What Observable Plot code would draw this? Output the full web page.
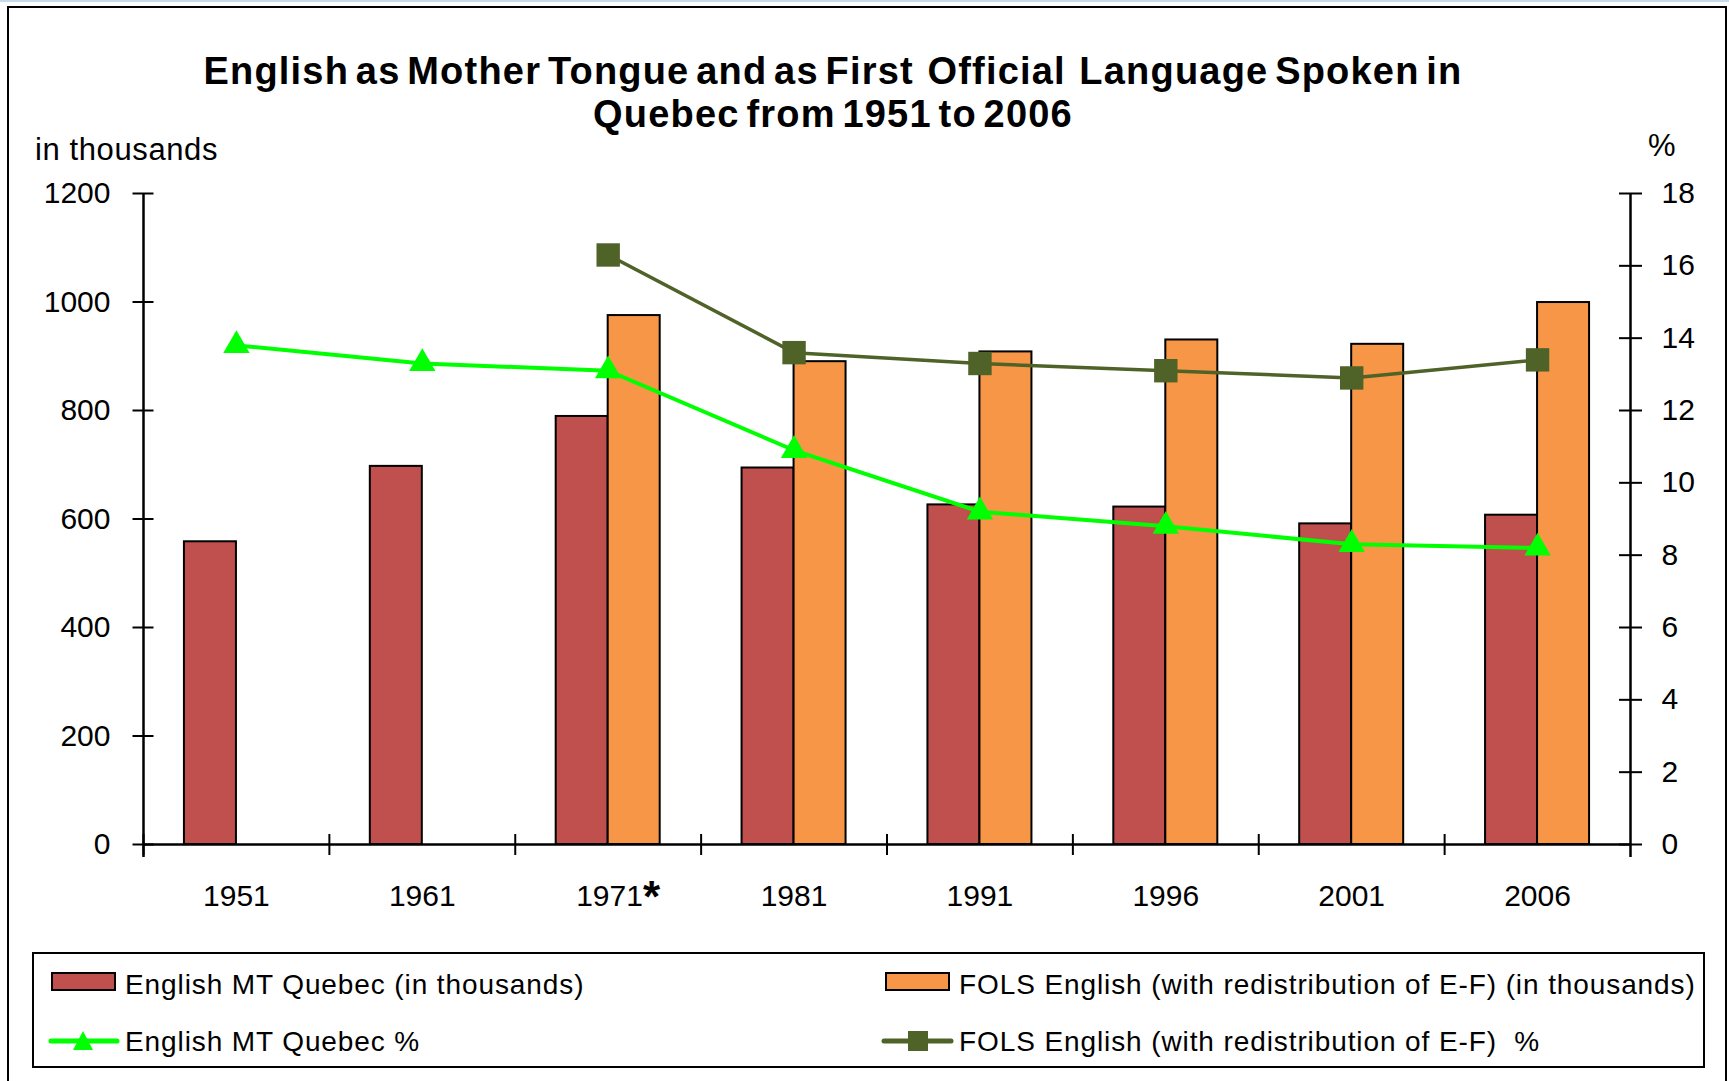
<!DOCTYPE html>
<html>
<head>
<meta charset="utf-8">
<script src="https://cdn.jsdelivr.net/npm/d3@7"></script>
<script src="https://cdn.jsdelivr.net/npm/@observablehq/plot@0.6"></script>
<style>
  html, body { margin: 0; padding: 0; background: #fff; overflow: hidden; }
  #page { position: relative; width: 1729px; height: 1081px; font-family: "Liberation Sans", Arial, sans-serif; color: #000; }
  #topline { position: absolute; left: 0; top: 0; width: 1729px; height: 2px; background: #c6d9f0; }
  #frame { position: absolute; left: 7px; top: 6px; width: 1720px; height: 1100px; box-sizing: border-box; border: 2px solid #000; }
  #title { position: absolute; left: 0; top: 50px; width: 1666px; text-align: center; font-weight: bold; font-size: 38px; line-height: 43px; letter-spacing: 1.2px; word-spacing: -5px; white-space: pre; }
  .axlab { position: absolute; font-size: 31px; line-height: 31px; letter-spacing: 0.6px; white-space: pre; }
  #chart { position: absolute; left: 0; top: 171px; }
  #legend { position: absolute; left: 32px; top: 952px; width: 1673px; height: 116px; box-sizing: border-box; border: 2px solid #000; }
  .lg { position: absolute; font-size: 28px; line-height: 28px; letter-spacing: 0.9px; white-space: pre; }
  .sw { position: absolute; }
</style>
</head>
<body>
<div id="page">
  <div id="topline"></div>
  <div id="frame"></div>
  <div id="title"></div>
  <div class="axlab" id="ylabL" style="left:35px; top:134px;"></div>
  <div class="axlab" id="ylabR" style="left:1648px; top:130px;"></div>
  <div id="chart"></div>
  <div id="legend"></div>
</div>
<script>
// ---- data ----
const titleLines = ["English as Mother Tongue and as First  Official  Language Spoken in", "Quebec from 1951 to 2006"];
const years = ["1951", "1961", "1971", "1981", "1991", "1996", "2001", "2006"];
const xTickLabels = ["1951", "1961", "1971*", "1981", "1991", "1996", "2001", "2006"];
const mtThousands = [558, 697, 789, 694, 626, 622, 591, 607];
const folsThousands = [null, null, 975, 890, 908, 930, 922, 999];
const mtPct = [13.8, 13.3, 13.1, 10.9, 9.2, 8.8, 8.3, 8.2];
const folsPct = [null, null, 16.3, 13.6, 13.3, 13.1, 12.9, 13.4];
const leftTicks = [0, 200, 400, 600, 800, 1000, 1200];
const rightTicks = [0, 2, 4, 6, 8, 10, 12, 14, 16, 18];
const leftAxisLabel = "in thousands";
const rightAxisLabel = "%";
const seriesNames = [
  "English MT Quebec (in thousands)",
  "FOLS English (with redistribution of E-F) (in thousands)",
  "English MT Quebec %",
  "FOLS English (with redistribution of E-F)  %"
];
const colors = { mt: "#C0504D", fols: "#F79646", mtPct: "#00FF00", folsPct: "#4F6228" };

// ---- build ----
document.getElementById("title").textContent = titleLines.join("\n");
document.getElementById("ylabL").textContent = leftAxisLabel;
document.getElementById("ylabR").textContent = rightAxisLabel;

const table = years.map((year, i) => ({
  year, mt: mtThousands[i], fols: folsThousands[i], mtPct: mtPct[i], folsPct: folsPct[i]
}));

const W = 1729, H = 760, ML = 143, MR = 99, MT = 22, MB = 87;
const bw = (W - ML - MR) / years.length;
const barW = 52;
const yMax = leftTicks[leftTicks.length - 1];
const pMax = rightTicks[rightTicks.length - 1];
const k = yMax / pMax;

const chart = Plot.plot({
  width: W, height: H, marginTop: MT, marginBottom: MB, marginLeft: ML, marginRight: MR,
  style: { fontFamily: "'Liberation Sans', Arial, sans-serif", fontSize: "30px", color: "#000", background: "transparent", overflow: "visible" },
  x: { domain: years, padding: 0, round: false, axis: null },
  y: { domain: [0, yMax], axis: null },
  marks: [
    Plot.barY(table, { x: "year", y: "mt", fill: colors.mt, stroke: "#000", strokeWidth: 2, insetLeft: bw / 2 - barW, insetRight: bw / 2 }),
    Plot.barY(table.filter(d => d.fols != null), { x: "year", y: "fols", fill: colors.fols, stroke: "#000", strokeWidth: 2, insetLeft: bw / 2, insetRight: bw / 2 - barW }),
    Plot.ruleY([0], { stroke: "#000", strokeWidth: 2.5 }),
    Plot.ruleX([years[0]], { dx: -bw / 2, insetBottom: -13, stroke: "#000", strokeWidth: 2.5 }),
    Plot.ruleX([years[years.length - 1]], { dx: bw / 2, insetBottom: -13, stroke: "#000", strokeWidth: 2.5 }),
    Plot.axisX(years, { tickSize: 0, tickPadding: 40, tickFormat: d => xTickLabels[years.indexOf(d)], label: null }),
    Plot.axisX(years, { tickSize: 21, dx: -bw / 2, dy: -10, tickFormat: () => "", label: null, strokeWidth: 2 }),
    Plot.axisY(leftTicks, { anchor: "left", tickSize: 21, dx: 10.5, tickPadding: 22.5, tickFormat: d => String(d), label: null, strokeWidth: 2 }),
    Plot.axisY(rightTicks.map(p => p * k), { anchor: "right", tickSize: 23, dx: -12, tickPadding: 20, tickFormat: d => String(Math.round(d / k)), label: null, strokeWidth: 2 }),
    Plot.line(table, { x: "year", y: d => d.mtPct * k, stroke: colors.mtPct, strokeWidth: 4 }),
    Plot.dot(table, { x: "year", y: d => d.mtPct * k, symbol: "triangle", r: 9.8, fill: colors.mtPct }),
    Plot.line(table, { x: "year", y: d => d.folsPct == null ? NaN : d.folsPct * k, stroke: colors.folsPct, strokeWidth: 3.5 }),
    Plot.dot(table, { x: "year", y: d => d.folsPct == null ? NaN : d.folsPct * k, symbol: "square", r: 13.2, fill: colors.folsPct })
  ]
});
document.getElementById("chart").appendChild(chart);

// asterisk styling on the 1971 label
chart.querySelectorAll("text").forEach(t => {
  const s = t.textContent;
  if (s.endsWith("*")) {
    t.textContent = s.slice(0, -1);
    const ts = document.createElementNS("http://www.w3.org/2000/svg", "tspan");
    ts.textContent = "*";
    ts.setAttribute("font-size", "44");
    ts.setAttribute("font-weight", "bold");
    ts.setAttribute("dy", "6");
    t.appendChild(ts);
    t.setAttribute("text-anchor", "start");
    t.setAttribute("dx", "-32");
  }
});

// ---- legend ----
const legend = document.getElementById("legend");
const ox = 34, oy = 954; // legend inner origin (page coords)
function addText(str, x, baseline) {
  const d = document.createElement("div");
  d.className = "lg";
  d.textContent = str;
  d.style.left = (x - ox) + "px";
  d.style.top = (baseline - 23.7 - oy) + "px";
  legend.appendChild(d);
}
function addSvg(x, y, w, h, inner) {
  const d = document.createElement("div");
  d.className = "sw";
  d.style.left = (x - ox) + "px";
  d.style.top = (y - oy) + "px";
  d.innerHTML = `<svg width="${w}" height="${h}" style="display:block">${inner}</svg>`;
  legend.appendChild(d);
}
addSvg(51, 972, 65, 19, `<rect x="1" y="1" width="63" height="17" fill="${colors.mt}" stroke="#000" stroke-width="2"/>`);
addText(seriesNames[0], 125, 995);
addSvg(885, 972, 65, 19, `<rect x="1" y="1" width="63" height="17" fill="${colors.fols}" stroke="#000" stroke-width="2"/>`);
addText(seriesNames[1], 959, 995);
addSvg(48, 1029, 72, 24, `<line x1="3" y1="12" x2="69" y2="12" stroke="${colors.mtPct}" stroke-width="5" stroke-linecap="round"/><path d="M35,2 L45,21 L25,21 Z" fill="${colors.mtPct}"/>`);
addText(seriesNames[2], 125, 1052);
addSvg(881, 1029, 73, 24, `<line x1="3" y1="12" x2="70" y2="12" stroke="${colors.folsPct}" stroke-width="5" stroke-linecap="round"/><rect x="27" y="2" width="20" height="20" fill="${colors.folsPct}"/>`);
addText(seriesNames[3], 959, 1052);
</script>
</body>
</html>
